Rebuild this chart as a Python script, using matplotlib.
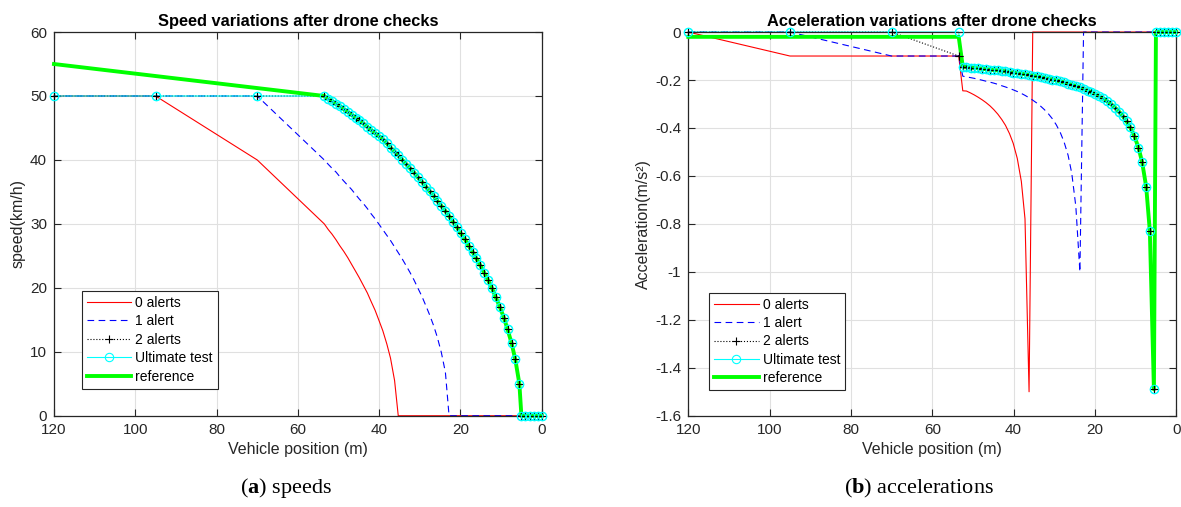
import numpy as np
import matplotlib.pyplot as plt

plt.rcParams['font.family'] = ['Liberation Sans', 'DejaVu Sans']
plt.rcParams['axes.unicode_minus'] = False
plt.rcParams['mathtext.fontset'] = 'custom'
plt.rcParams['mathtext.rm'] = 'Liberation Serif'
plt.rcParams['mathtext.bf'] = 'Liberation Serif:bold'

# ---- data ----
# braking curve shared by "2 alerts", "Ultimate test" and "reference"
pos_head = [120, 95, 70]
pos_curve = [53.5, 52.5, 51.6, 50.6, 49.7, 48.7, 47.7, 46.8, 45.8, 44.9,
             43.9, 42.9, 42.0, 41.0, 40.1, 39.1, 38.1, 37.2, 36.2, 35.3,
             34.3, 33.3, 32.4, 31.4, 30.5, 29.5, 28.5, 27.6, 26.6, 25.7,
             24.7, 23.7, 22.8, 21.8, 20.9, 19.9, 18.9, 18.0, 17.0, 16.1,
             15.1, 14.1, 13.2, 12.2, 11.3, 10.3, 9.3, 8.4, 7.4, 6.5, 5.5]
pos_stop = [5.0, 4.0, 3.0, 2.0, 1.0, 0.0]

v_curve = [50.0, 49.6, 49.2, 48.8, 48.4, 47.9, 47.5, 47.1, 46.6, 46.2,
           45.7, 45.2, 44.7, 44.2, 43.7, 43.2, 42.6, 41.9, 41.3, 40.7,
           40.0, 39.3, 38.7, 38.0, 37.3, 36.6, 35.8, 35.1, 34.4, 33.6,
           32.8, 32.0, 31.2, 30.3, 29.5, 28.5, 27.6, 26.6, 25.6, 24.6,
           23.5, 22.3, 21.2, 19.9, 18.5, 17.0, 15.3, 13.5, 11.3, 8.8, 5.0]
# acceleration on pos_curve[1:]
a_curve = [-0.145, -0.146, -0.148, -0.150, -0.151, -0.153, -0.155, -0.157, -0.158, -0.160,
           -0.162, -0.164, -0.167, -0.169, -0.171, -0.174, -0.176, -0.179, -0.182, -0.185,
           -0.188, -0.191, -0.195, -0.198, -0.202, -0.206, -0.210, -0.215, -0.220, -0.225,
           -0.231, -0.237, -0.244, -0.251, -0.259, -0.268, -0.277, -0.289, -0.300, -0.315,
           -0.332, -0.349, -0.373, -0.398, -0.434, -0.482, -0.542, -0.645, -0.83, -1.49]

# 0 alerts
pos_red = [120, 95, 70, 53.5, 52.5, 51.6, 50.6, 49.7, 48.7, 47.7, 46.8, 45.8,
           44.9, 43.9, 42.9, 42.0, 41.0, 40.1, 39.1, 38.1, 37.2, 36.2, 35.3, 0]
v_red = [50, 50, 40, 30.0, 29.1, 28.4, 27.5, 26.6, 25.7, 24.7, 23.7, 22.6,
         21.6, 20.4, 19.2, 17.9, 16.5, 15.0, 13.3, 11.2, 9.0, 5.5, 0, 0]
a_red = [0, -0.1, -0.1, -0.1, -0.245, -0.246, -0.254, -0.262, -0.272, -0.283, -0.294, -0.308,
         -0.323, -0.342, -0.365, -0.389, -0.424, -0.464, -0.527, -0.623, -0.779, -1.50, 0, 0]

# 1 alert
pos_blue = [120, 95, 70, 53.5, 52.5, 51.6, 50.6, 49.7, 48.7, 47.7, 46.8, 45.8, 44.9,
            43.9, 42.9, 42.0, 41.0, 40.1, 39.1, 38.1, 37.2, 36.2, 35.3, 34.3, 33.3,
            32.4, 31.4, 30.5, 29.5, 28.5, 27.6, 26.6, 25.7, 24.7, 23.7, 22.8, 0]
v_blue = [50, 50, 50, 40.0, 39.3, 38.7, 38.1, 37.4, 36.7, 36.0, 35.4, 34.6, 33.9,
          33.2, 32.4, 31.6, 30.8, 30.0, 29.1, 28.2, 27.4, 26.4, 25.5, 24.5, 23.4,
          22.4, 21.2, 20.0, 18.7, 17.2, 15.8, 14.1, 12.3, 9.9, 6.8, 0, 0]
a_blue = [0, 0, -0.1, -0.1, -0.184, -0.187, -0.190, -0.193, -0.197, -0.201, -0.205, -0.209, -0.213,
          -0.218, -0.224, -0.229, -0.235, -0.241, -0.248, -0.256, -0.264, -0.274, -0.284, -0.296, -0.310,
          -0.324, -0.342, -0.361, -0.387, -0.420, -0.458, -0.514, -0.589, -0.727, -1.0, 0, 0]

# heads of the other series (before the braking curve)
v_head_2 = [50, 50, 50]
a_head_2 = [0, 0, 0, -0.1]      # 120, 95, 70, 53.5
a_head_ult = [0, 0, 0, 0]
v_ref_start = 55
a_ref_start = [-0.02, -0.02]    # 120, 53.5

# ---- build series ----
x2 = pos_head + pos_curve + pos_stop
v2 = v_head_2 + v_curve + [0] * len(pos_stop)
a2 = a_head_2 + a_curve + [0] * len(pos_stop)
a_ult = a_head_ult + a_curve + [0] * len(pos_stop)
x_ref = [120] + pos_curve + pos_stop
v_ref = [v_ref_start] + v_curve + [0] * len(pos_stop)
a_ref = a_ref_start + a_curve + [0] * len(pos_stop)

dark = (0.15, 0.15, 0.15)

fig = plt.figure(figsize=(11.81, 5.07), dpi=100)
ax1 = fig.add_axes([0.0457, 0.180, 0.4130, 0.7568])
ax2 = fig.add_axes([0.5828, 0.180, 0.4132, 0.7568])


def draw(ax, yr, yb, y2, yu, yref):
    ax.plot(pos_red, yr, color='red', lw=0.8, label='0 alerts', clip_on=False)
    ax.plot(pos_blue, yb, color='blue', lw=0.8, dashes=(6, 4), label='1 alert', clip_on=False)
    ax.plot(x2, y2, color='black', lw=0.8, ls=':', marker='+', ms=6, mew=0.8,
            label='2 alerts', clip_on=False)
    ax.plot(x2, yu, color='cyan', lw=0.8, marker='o', ms=6, mfc='none', mew=0.8,
            label='Ultimate test', clip_on=False)
    ax.plot(x_ref, yref, color=(0, 1, 0), lw=2.8, label='reference', clip_on=False, zorder=3)
    # markers stay visible on top of the thick reference line
    ax.plot(x2, y2, ls='none', color='black', marker='+', ms=6, mew=0.8, clip_on=False, zorder=4)
    ax.plot(x2, yu, ls='none', color='cyan', marker='o', ms=6, mfc='none', mew=0.8,
            clip_on=False, zorder=4)
    ax.set_xlim(120, 0)
    ax.set_xticks([120, 100, 80, 60, 40, 20, 0])
    ax.grid(True, color=(0.88, 0.88, 0.88), lw=0.8)
    ax.set_axisbelow(True)
    ax.tick_params(direction='in', top=True, right=True, length=5, width=0.8,
                   colors=dark, labelsize=11, pad=5)
    for s in ax.spines.values():
        s.set_color(dark)
        s.set_linewidth(0.9)
    ax.set_xlabel('Vehicle position (m)', fontsize=11.5, color=dark, labelpad=4)


draw(ax1, v_red, v_blue, v2, v2, v_ref)
ax1.set_ylim(0, 60)
ax1.set_yticks([0, 10, 20, 30, 40, 50, 60])
ax1.set_ylabel('speed(km/h)', fontsize=11.5, color=dark, labelpad=3)
ax1.set_title('Speed variations after drone checks', fontsize=11.8, fontweight='bold', pad=4)

draw(ax2, a_red, a_blue, a2, a_ult, a_ref)
ax2.set_ylim(-1.6, 0)
ax2.set_yticks([0, -0.2, -0.4, -0.6, -0.8, -1, -1.2, -1.4, -1.6])
ax2.set_yticklabels(['0', '-0.2', '-0.4', '-0.6', '-0.8', '-1', '-1.2', '-1.4', '-1.6'])
ax2.set_ylabel('Acceleration(m/s²)', fontsize=11.5, color=dark, labelpad=3)
ax2.set_title('Acceleration variations after drone checks', fontsize=11.8, fontweight='bold', pad=4)

for ax, anchor in ((ax1, (0.0694, 0.4260)), (ax2, (0.6006, 0.4227))):
    h, l = ax.get_legend_handles_labels()
    leg = ax.legend(h[:5], l[:5], loc='upper left', bbox_to_anchor=anchor,
                    bbox_transform=fig.transFigure, fontsize=10, handlelength=3.2,
                    handletextpad=0.3, labelspacing=0.32, borderpad=0.35,
                    borderaxespad=0, fancybox=False, framealpha=1, numpoints=1)
    leg.get_frame().set_edgecolor(dark)
    leg.get_frame().set_linewidth(0.8)

fig.text(0.242, 0.037, r'($\mathbf{a}$) speeds', fontsize=16, family='Liberation Serif',
         ha='center', va='center')
fig.text(0.778, 0.037, r'($\mathbf{b}$) accelerations', fontsize=16, family='Liberation Serif',
         ha='center', va='center')

fig.savefig('out.png', dpi=100)
